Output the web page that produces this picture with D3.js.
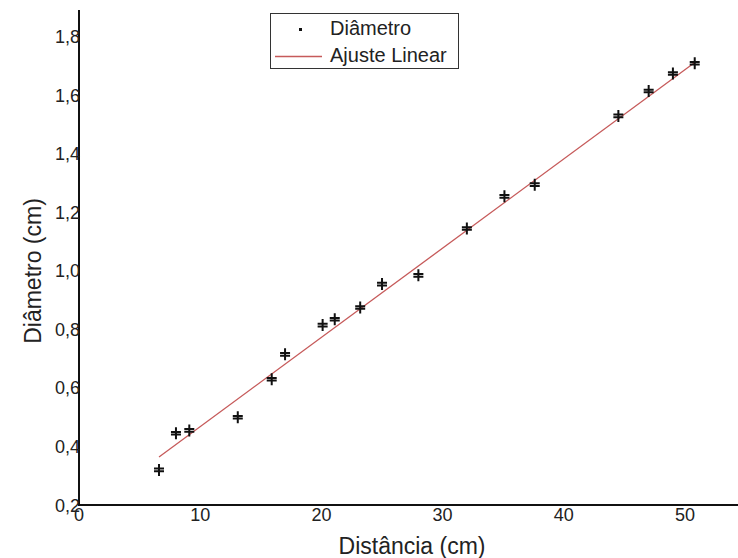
<!DOCTYPE html>
<html>
<head>
<meta charset="utf-8">
<script src="https://cdn.jsdelivr.net/npm/d3@7"></script>
<style>
  body { margin: 0; background: #fff; }
  svg text { font-family: "Liberation Sans", Arial, sans-serif; fill: #222; }
</style>
</head>
<body>
<div id="chart"></div>
<script>
// measured points (distance in cm, diameter in cm)
const distancia = [6.6, 8.0, 9.1, 13.1, 15.9, 17.0, 20.1, 21.1, 23.2, 25.0, 28.0, 32.0, 35.1, 37.6, 44.5, 47.0, 49.0, 50.8]
const diametro = [0.32, 0.445, 0.455, 0.50, 0.63, 0.715, 0.815, 0.835, 0.875, 0.955, 0.985, 1.145, 1.255, 1.295, 1.53, 1.615, 1.675, 1.71]

// linear fit: y = a + b*x, drawn over the data range
const ajuste = { a: 0.163, b: 0.0305 }

const xTicks = [0, 10, 20, 30, 40, 50]
const yTicks = [0.2, 0.4, 0.6, 0.8, 1.0, 1.2, 1.4, 1.6, 1.8]
const legendLabels = ['Diâmetro', 'Ajuste Linear']

const width = 738,
    height = 558

const svg = d3.select('#chart').append('svg')
    .attr('width', width)
    .attr('height', height)

const x = d3.scaleLinear()
    .domain([0, 54.37])
    .range([79, 738])

const y = d3.scaleLinear()
    .domain([0.2, 1.892])
    .range([505, 10])

const fmt = d => d3.format('.1f')(d).replace('.', ',')

// fit line
const xs = d3.extent(distancia)
svg.append('line')
    .attr('x1', x(xs[0])).attr('y1', y(ajuste.a + ajuste.b * xs[0]))
    .attr('x2', x(xs[1])).attr('y2', y(ajuste.a + ajuste.b * xs[1]))
    .style('stroke', '#c65a5a')
    .style('stroke-width', 1.3)

// markers: plus with doubled horizontal bar
const pts = svg.selectAll('.pt')
    .data(distancia.map((d, i) => ({ x: d, y: diametro[i] })))
    .enter().append('g')
    .attr('class', 'pt')
    .attr('transform', d => `translate(${x(d.x)},${y(d.y)})`)

pts.append('path')
    .attr('d', 'M-5,-1.3H5M-5,1.3H5M0,-6V6')
    .style('stroke', '#111')
    .style('stroke-width', 2)
    .style('fill', 'none')

// axes
svg.append('line')
    .attr('x1', x(0)).attr('x2', width)
    .attr('y1', y(0.2)).attr('y2', y(0.2))
    .style('stroke', '#111').style('stroke-width', 2)

svg.append('line')
    .attr('x1', x(0)).attr('x2', x(0))
    .attr('y1', y(0.2) + 1).attr('y2', y.range()[1])
    .style('stroke', '#111').style('stroke-width', 2)

svg.selectAll('.x-text')
    .data(xTicks)
    .enter().append('text')
    .attr('class', 'x-text')
    .attr('x', d => x(d))
    .attr('y', y(0.2) + 16)
    .attr('text-anchor', 'middle')
    .style('font-size', '18px')
    .text(d => d)

svg.selectAll('.y-text')
    .data(yTicks)
    .enter().append('text')
    .attr('class', 'y-text')
    .attr('x', x(0) + 1)
    .attr('y', d => y(d) + 6.5)
    .attr('text-anchor', 'end')
    .style('font-size', '18px')
    .text(fmt)

svg.append('text')
    .attr('x', 412)
    .attr('y', 554)
    .attr('text-anchor', 'middle')
    .style('font-size', '23px')
    .text('Distância (cm)')

svg.append('text')
    .attr('transform', 'translate(41,271) rotate(-90)')
    .attr('text-anchor', 'middle')
    .style('font-size', '23px')
    .text('Diâmetro (cm)')

// legend
const lg = svg.append('g')
lg.append('rect')
    .attr('x', 270.5).attr('y', 13.5)
    .attr('width', 188).attr('height', 55)
    .style('fill', '#fff')
    .style('stroke', '#333')
    .style('stroke-width', 1)

lg.append('rect')
    .attr('x', 299).attr('y', 28)
    .attr('width', 3).attr('height', 3)
    .style('fill', '#111')

lg.append('line')
    .attr('x1', 275).attr('x2', 322)
    .attr('y1', 56.5).attr('y2', 56.5)
    .style('stroke', '#c65a5a')
    .style('stroke-width', 1.3)

lg.selectAll('.lg-text')
    .data(legendLabels)
    .enter().append('text')
    .attr('class', 'lg-text')
    .attr('x', 330)
    .attr('y', (d, i) => 35 + i * 27)
    .style('font-size', '20px')
    .text(d => d)
</script>
</body>
</html>
